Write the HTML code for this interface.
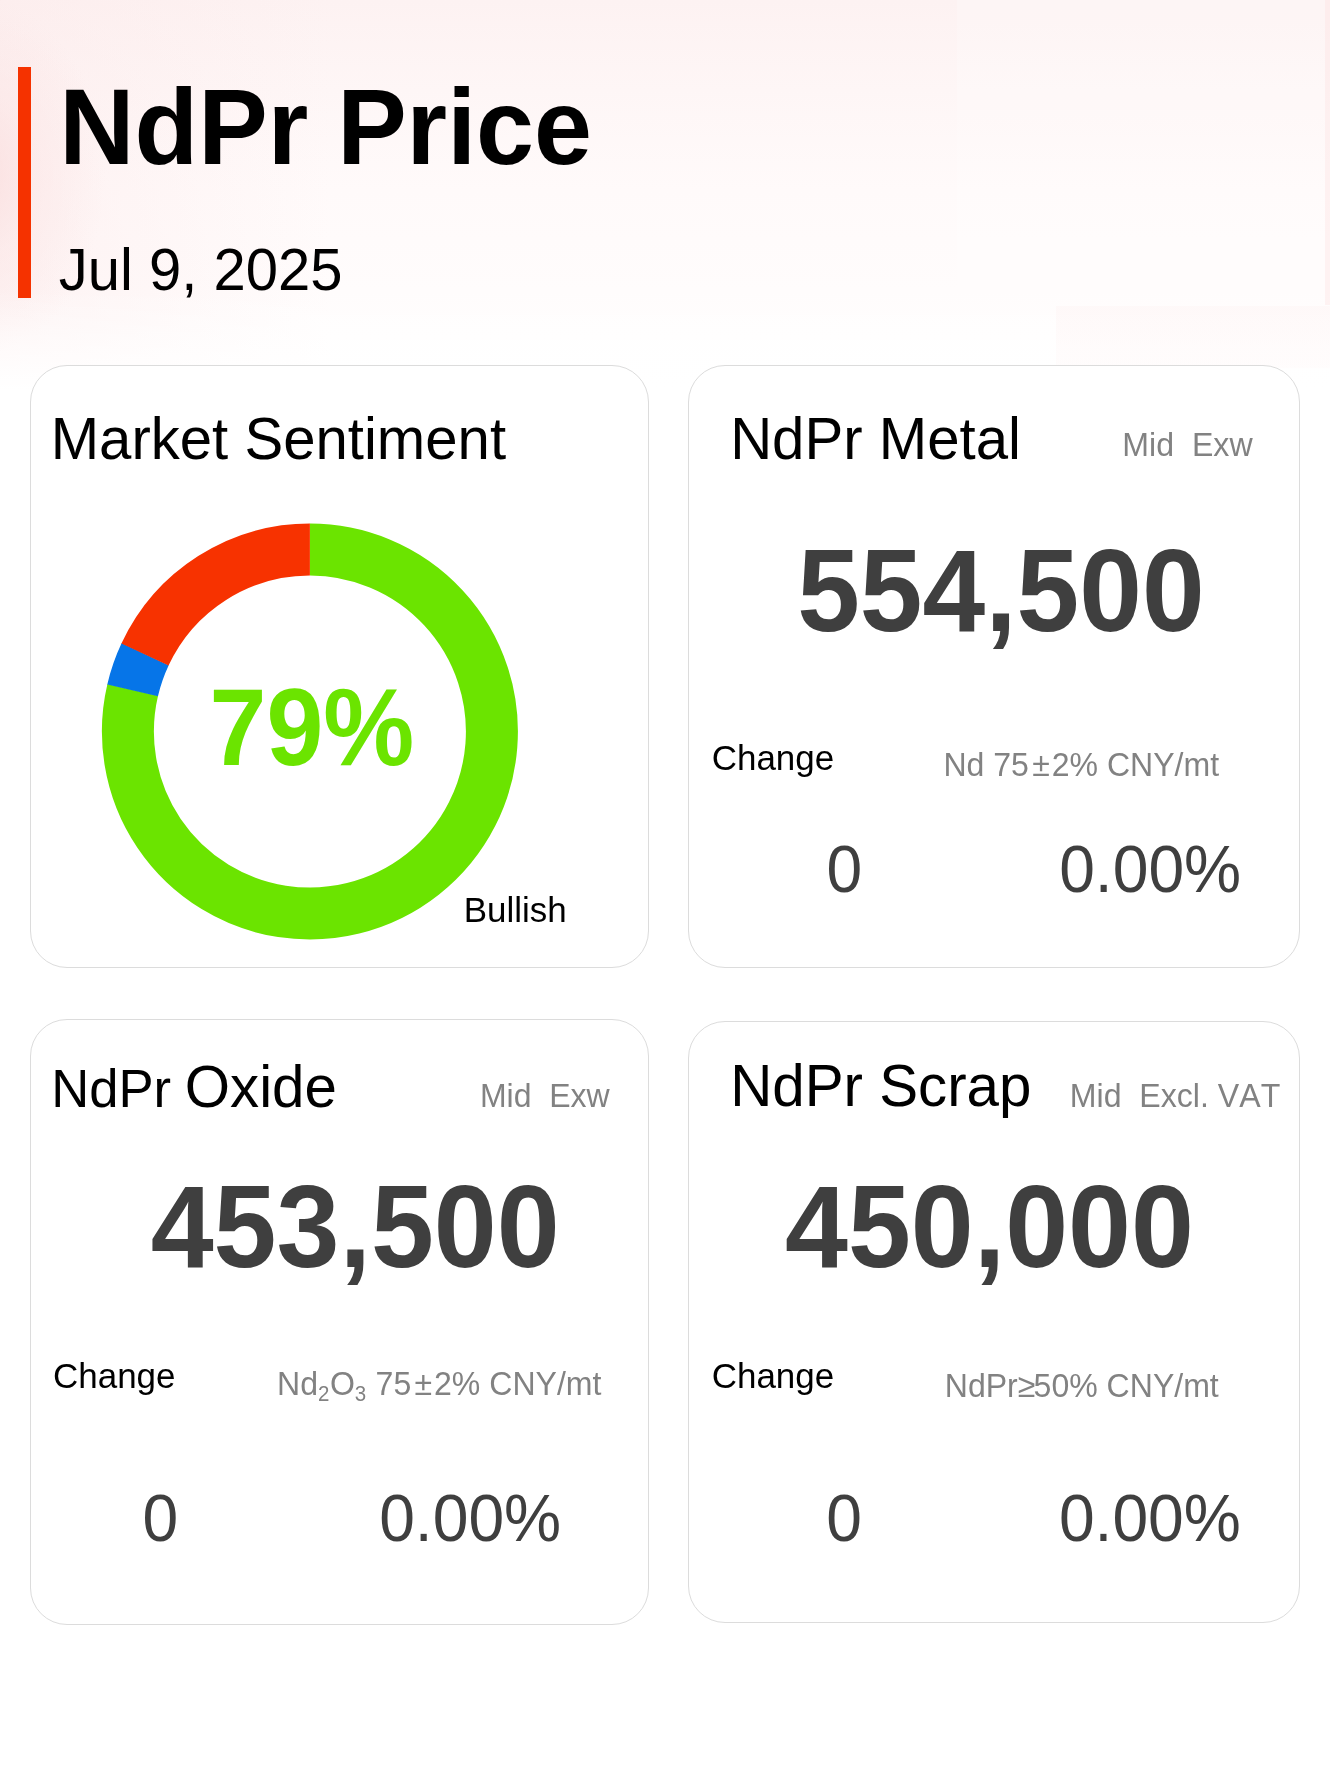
<!DOCTYPE html>
<html>
<head>
<meta charset="utf-8">
<title>NdPr Price</title>
<style>
*{margin:0;padding:0;box-sizing:border-box}
html,body{width:1330px;height:1768px;overflow:hidden;background:#fff}
body{font-family:"Liberation Sans",sans-serif;position:relative;color:#000;font-kerning:none}
.bg{position:absolute;left:0;top:0;width:1330px;height:700px;
  background:
   linear-gradient(180deg,rgba(255,255,255,0) 0px,rgba(255,255,255,0) 290px,#fff 390px),
   radial-gradient(ellipse 130px 180px at -25px 175px,rgba(249,216,216,0.7) 0%,rgba(250,224,224,0.4) 45%,rgba(253,240,240,0) 100%),
   linear-gradient(90deg,rgba(252,234,234,0.5) 0px,rgba(253,242,242,0) 330px),
   linear-gradient(180deg,#fdf2f2 0px,#fef6f6 90px,#fffafa 190px,#fffcfc 290px,#ffffff 390px)}
.bgr{position:absolute;left:957px;top:0;width:368px;height:305px;background:rgba(255,255,255,0.22)}
.bgs{position:absolute;left:1325px;top:0;width:5px;height:305px;background:rgba(252,230,230,0.45)}
.bgp{position:absolute;left:1056px;top:306px;width:274px;height:62px;background:linear-gradient(180deg,rgba(254,245,245,0.55),rgba(255,249,249,0.4))}
.abs{position:absolute;white-space:nowrap;line-height:1;transform-origin:0 84.65%}
.bar{position:absolute;left:18px;top:67.4px;width:13px;height:230.8px;background:#f53200}
.card{position:absolute;background:#fff;border:1px solid #dcdcdc;border-radius:37px}
sub{font-size:0.64em;vertical-align:baseline;position:relative;top:0.31em;line-height:0;margin-right:0.45px}
.ge{margin-right:-1.8px}
.pm{margin-left:3.3px;margin-right:1.9px}
</style>
</head>
<body>
<div class="bg"></div><div class="bgr"></div><div class="bgs"></div><div class="bgp"></div>
<div class="bar"></div>
<div class="card" style="left:30px;top:365px;width:619px;height:603px"></div>
<div class="card" style="left:688px;top:365px;width:612px;height:603px"></div>
<div class="card" style="left:30px;top:1019px;width:619px;height:606px"></div>
<div class="card" style="left:688px;top:1021px;width:612px;height:602px"></div>
<svg id="donut" style="position:absolute;left:89px;top:511px" width="442" height="442" viewBox="-220.9 -220.5 442 442">
  <g fill="none" stroke-width="52">
    <path d="M0.000 -182.000 A182 182 0 1 1 -177.170 -41.653" stroke="#6be400"/>
    <path d="M-177.278 -41.189 A182 182 0 0 1 -164.719 -77.406" stroke="#0675e8"/>
    <path d="M-164.921 -76.974 A182 182 0 0 1 -0.000 -182.000" stroke="#f73200"/>
  </g>
</svg>

<div id="txt" style="position:absolute;left:0;top:0;width:1330px;height:1768px;will-change:transform">
<div class="abs" id="title" style="left:59.36px;top:75.79px;font-size:104.16px;color:#000;font-weight:bold;transform:scaleY(1.0400)">NdPr Price</div>
<div class="abs" id="date" style="left:58.82px;top:241.00px;font-size:57.99px;color:#000;transform:scaleY(1.0200)">Jul 9, 2025</div>
<div class="abs" id="ct1" style="left:50.66px;top:410.02px;font-size:58.11px;color:#000;transform:scaleY(1.0300)">Market Sentiment</div>
<div class="abs" id="pct" style="left:209.56px;top:679.00px;font-size:102.30px;color:#6be400;font-weight:bold;transform:scaleY(1.0700)">79%</div>
<div class="abs" id="bull" style="left:463.67px;top:893.00px;font-size:34.97px;color:#000;transform:scaleY(1.0200)">Bullish</div>
<div class="abs" id="ct2" style="left:730.13px;top:410.06px;font-size:58.15px;color:#000;transform:scaleY(1.0300)">NdPr Metal</div>
<div class="abs" id="tag2" style="left:1122.37px;top:429.20px;font-size:32.12px;color:#828282;transform:scaleY(1.0350)">Mid&nbsp; Exw</div>
<div class="abs" id="big2" style="left:797.20px;top:535.80px;font-size:112.71px;color:#3f3f3f;font-weight:bold;transform:scaleY(1.0400)">554,500</div>
<div class="abs" id="chg2" style="left:711.74px;top:740.70px;font-size:34.96px;color:#000;transform:scaleY(1.0200)">Change</div>
<div class="abs" id="unit2" style="left:943.42px;top:748.60px;font-size:32.06px;color:#828282;transform:scaleY(1.0350)">Nd 75<span class="pm">±</span>2% CNY/mt</div>
<div class="abs" id="v2a" style="left:826.40px;top:838.14px;font-size:64.20px;color:#3f3f3f;transform:scaleY(1.0400)">0</div>
<div class="abs" id="v2b" style="left:1059.16px;top:838.22px;font-size:64.20px;color:#3f3f3f;transform:scaleY(1.0400)">0.00%</div>
<div class="abs" id="ct3a" style="left:51.23px;top:1063.08px;font-size:52.64px;color:#000;transform:scaleY(1.0200)">NdPr</div>
<div class="abs" id="ct3b" style="left:184.75px;top:1058.06px;font-size:58.24px;color:#000;transform:scaleY(1.0300)">Oxide</div>
<div class="abs" id="tag3" style="left:479.93px;top:1080.00px;font-size:32.00px;color:#828282;transform:scaleY(1.0350)">Mid&nbsp; Exw</div>
<div class="abs" id="big3" style="left:150.70px;top:1172.20px;font-size:113.17px;color:#3f3f3f;font-weight:bold;transform:scaleY(1.0400)">453,500</div>
<div class="abs" id="chg3" style="left:53.05px;top:1358.90px;font-size:34.96px;color:#000;transform:scaleY(1.0200)">Change</div>
<div class="abs" id="unit3" style="left:277.12px;top:1368.00px;font-size:32.06px;color:#828282;transform:scaleY(1.0350)">Nd<sub>2</sub>O<sub>3</sub> 75<span class="pm">±</span>2% CNY/mt</div>
<div class="abs" id="v3a" style="left:142.40px;top:1487.44px;font-size:64.20px;color:#3f3f3f;transform:scaleY(1.0400)">0</div>
<div class="abs" id="v3b" style="left:379.16px;top:1487.12px;font-size:64.20px;color:#3f3f3f;transform:scaleY(1.0400)">0.00%</div>
<div class="abs" id="ct4" style="left:730.13px;top:1056.90px;font-size:58.31px;color:#000;transform:scaleY(1.0300)">NdPr Scrap</div>
<div class="abs" id="tag4" style="left:1069.75px;top:1080.00px;font-size:32.12px;color:#828282;transform:scaleY(1.0350)">Mid&nbsp; Excl. VAT</div>
<div class="abs" id="big4" style="left:785.00px;top:1172.20px;font-size:113.12px;color:#3f3f3f;font-weight:bold;transform:scaleY(1.0400)">450,000</div>
<div class="abs" id="chg4" style="left:711.74px;top:1358.90px;font-size:34.96px;color:#000;transform:scaleY(1.0200)">Change</div>
<div class="abs" id="unit4" style="left:944.76px;top:1369.60px;font-size:32.06px;color:#828282;transform:scaleY(1.0350)">NdPr<span class="ge">≥</span>50% CNY/mt</div>
<div class="abs" id="v4a" style="left:826.16px;top:1487.14px;font-size:64.20px;color:#3f3f3f;transform:scaleY(1.0400)">0</div>
<div class="abs" id="v4b" style="left:1058.89px;top:1487.12px;font-size:64.20px;color:#3f3f3f;transform:scaleY(1.0400)">0.00%</div>
</div>
</body>
</html>
